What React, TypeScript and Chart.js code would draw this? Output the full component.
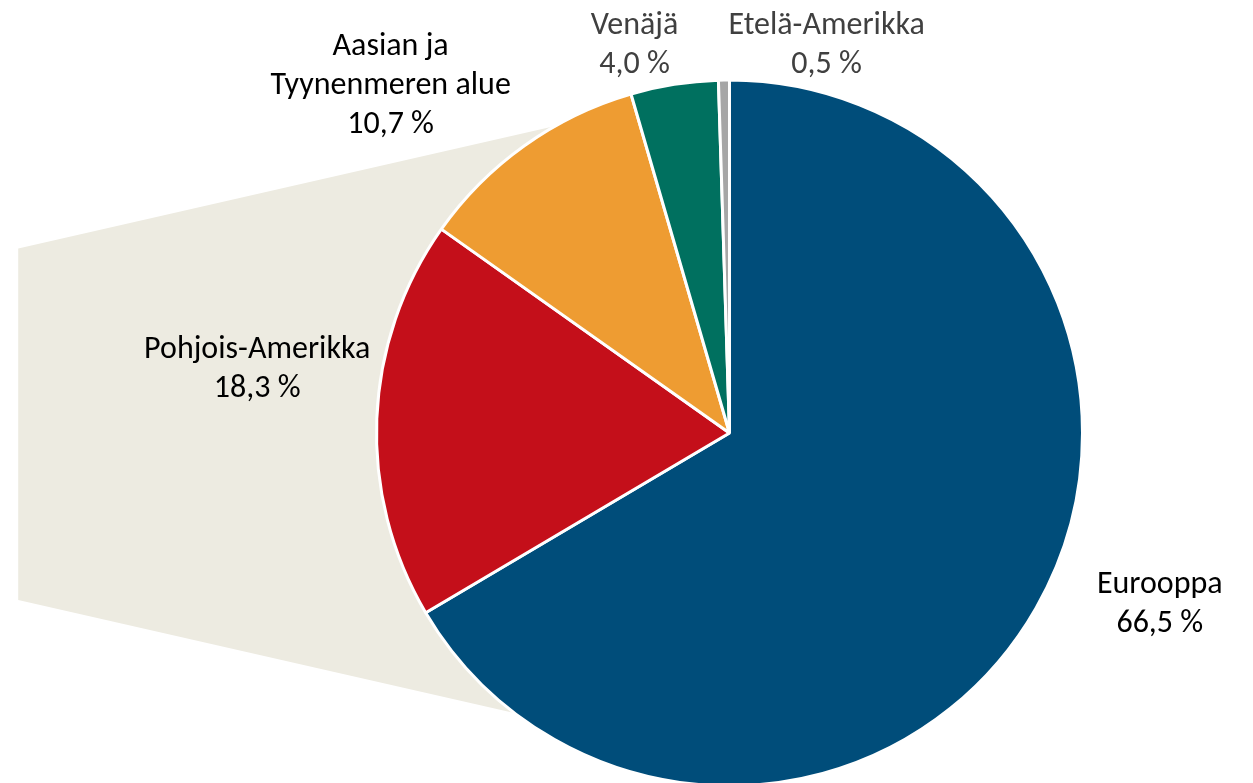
import React, { useEffect, useRef } from "react";
import { Chart, registerables } from "chart.js";

Chart.register(...registerables);

const categories = ["Eurooppa", "Pohjois-Amerikka", "Aasian ja\nTyynenmeren alue", "Venäjä", "Etelä-Amerikka"];
const shares = [66.5, 18.3, 10.7, 4.0, 0.5];
const colors = ["#004D7A", "#C40F1A", "#EE9C32", "#00705F", "#A6A6A6"];
const labelColors = ["#000000", "#000000", "#000000", "#404040", "#404040"];
// label block centre, relative to pie centre, in units of the pie radius
const labelOffsets: [number, number][] = [
  [1.219, 0.487],
  [-1.338, -0.181],
  [-0.96, -0.983],
  [-0.269, -1.099],
  [0.275, -1.099],
];

const FONT = '32px Carlito, Lato, sans-serif';
const LINE_H = 39;

const fmt = (v: number) => v.toFixed(1).replace(".", ",") + " %";

const backdrop = {
  id: "backdrop",
  beforeDatasetsDraw(chart: any) {
    const meta = chart.getDatasetMeta(0);
    const arc = meta.data[0];
    if (!arc) return;
    const { x, y, outerRadius: r } = arc.getProps(["x", "y", "outerRadius"], true);
    const ctx = chart.ctx;
    ctx.save();
    ctx.fillStyle = "#EDEBE1";
    ctx.beginPath();
    const lx = x - 2.015 * r;
    ctx.moveTo(lx, y - 0.523 * r);
    ctx.lineTo(x, y - 0.982 * r);
    ctx.lineTo(x, y + 0.932 * r);
    ctx.lineTo(lx, y + 0.473 * r);
    ctx.closePath();
    ctx.fill();
    ctx.restore();
  },
};

const labelsPlugin = {
  id: "outLabels",
  afterDatasetsDraw(chart: any) {
    const meta = chart.getDatasetMeta(0);
    const arc = meta.data[0];
    if (!arc) return;
    const { x, y, outerRadius: r } = arc.getProps(["x", "y", "outerRadius"], true);
    const ctx = chart.ctx;
    ctx.save();
    ctx.font = FONT;
    ctx.textAlign = "center";
    ctx.textBaseline = "middle";
    categories.forEach((c, i) => {
      const lines = [...c.split("\n"), fmt(shares[i])];
      const cx = x + labelOffsets[i][0] * r;
      const cy = y + labelOffsets[i][1] * r;
      const top = cy - ((lines.length - 1) * LINE_H) / 2;
      ctx.fillStyle = labelColors[i];
      lines.forEach((ln, k) => ctx.fillText(ln, cx, top + k * LINE_H));
    });
    ctx.restore();
  },
};

export default function App() {
  const ref = useRef<HTMLCanvasElement>(null);
  useEffect(() => {
    document.body.style.margin = "0";
    const chart = new Chart(ref.current!, {
      type: "pie",
      data: {
        labels: categories,
        datasets: [
          {
            data: shares,
            backgroundColor: colors,
            borderColor: "#FFFFFF",
            borderWidth: 3,
          },
        ],
      },
      options: {
        responsive: false,
        animation: false,
        layout: { padding: { left: 375, right: 169, top: 78.5, bottom: 2.5 } },
        plugins: { legend: { display: false }, tooltip: { enabled: false } },
      },
      plugins: [backdrop, labelsPlugin],
    });
    return () => chart.destroy();
  }, []);
  return (
    <div style={{ position: "fixed", left: 0, top: 0, width: 1253, height: 783, overflow: "hidden", background: "#fff" }}>
      <canvas ref={ref} width={1253} height={790} />
    </div>
  );
}
